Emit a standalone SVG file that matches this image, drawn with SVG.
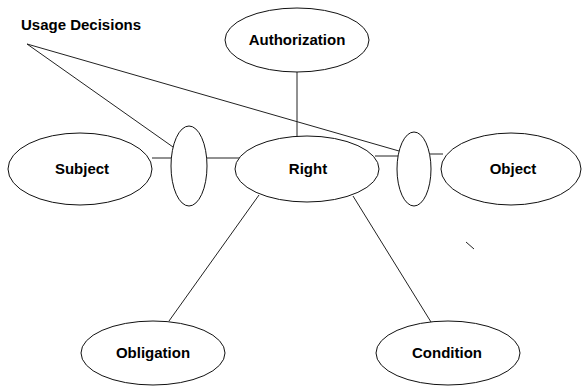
<svg xmlns="http://www.w3.org/2000/svg" width="582" height="387" viewBox="0 0 582 387">
<style>
.n{fill:#fff;stroke:#111;stroke-width:1}
.c line{stroke:#222;stroke-width:1;fill:none}
.t{font-family:"Liberation Sans",Arial,sans-serif;font-weight:bold;font-size:15px;fill:#000;text-anchor:middle}
</style>
<rect width="582" height="387" fill="#fff"/>
<g class="c" id="connectors">
<line x1="27" y1="44" x2="173" y2="147"/>
<line x1="27" y1="44" x2="399" y2="151"/>
<line x1="297" y1="72" x2="297" y2="137"/>
<line x1="152" y1="158" x2="172" y2="158"/>
<line x1="206" y1="158" x2="240" y2="158"/>
<line x1="375" y1="156" x2="398" y2="156"/>
<line x1="430" y1="154" x2="443" y2="154"/>
<line x1="259" y1="195" x2="169" y2="321"/>
<line x1="353" y1="196" x2="431" y2="322"/>
<line x1="466" y1="242" x2="474" y2="249"/>
</g>
<text class="t" x="21" y="30" style="text-anchor:start">Usage Decisions</text>
<g id="authorization"><ellipse class="n" cx="297" cy="40" rx="72" ry="32"/><text class="t" x="297" y="45">Authorization</text></g>
<g id="subject"><ellipse class="n" cx="80" cy="169" rx="72" ry="36"/><text class="t" x="82" y="174">Subject</text></g>
<g id="decision-left"><ellipse class="n" cx="189" cy="166" rx="18" ry="40"/></g>
<g id="right"><ellipse class="n" cx="307" cy="169" rx="72" ry="33"/><text class="t" x="308" y="174">Right</text></g>
<g id="decision-right"><ellipse class="n" cx="414" cy="169" rx="17" ry="37"/></g>
<g id="object"><ellipse class="n" cx="511" cy="169" rx="70" ry="36"/><text class="t" x="513" y="174">Object</text></g>
<g id="obligation"><ellipse class="n" cx="153" cy="353" rx="72" ry="32"/><text class="t" x="153" y="358">Obligation</text></g>
<g id="condition"><ellipse class="n" cx="448" cy="353" rx="72" ry="32"/><text class="t" x="447" y="358">Condition</text></g>
</svg>
